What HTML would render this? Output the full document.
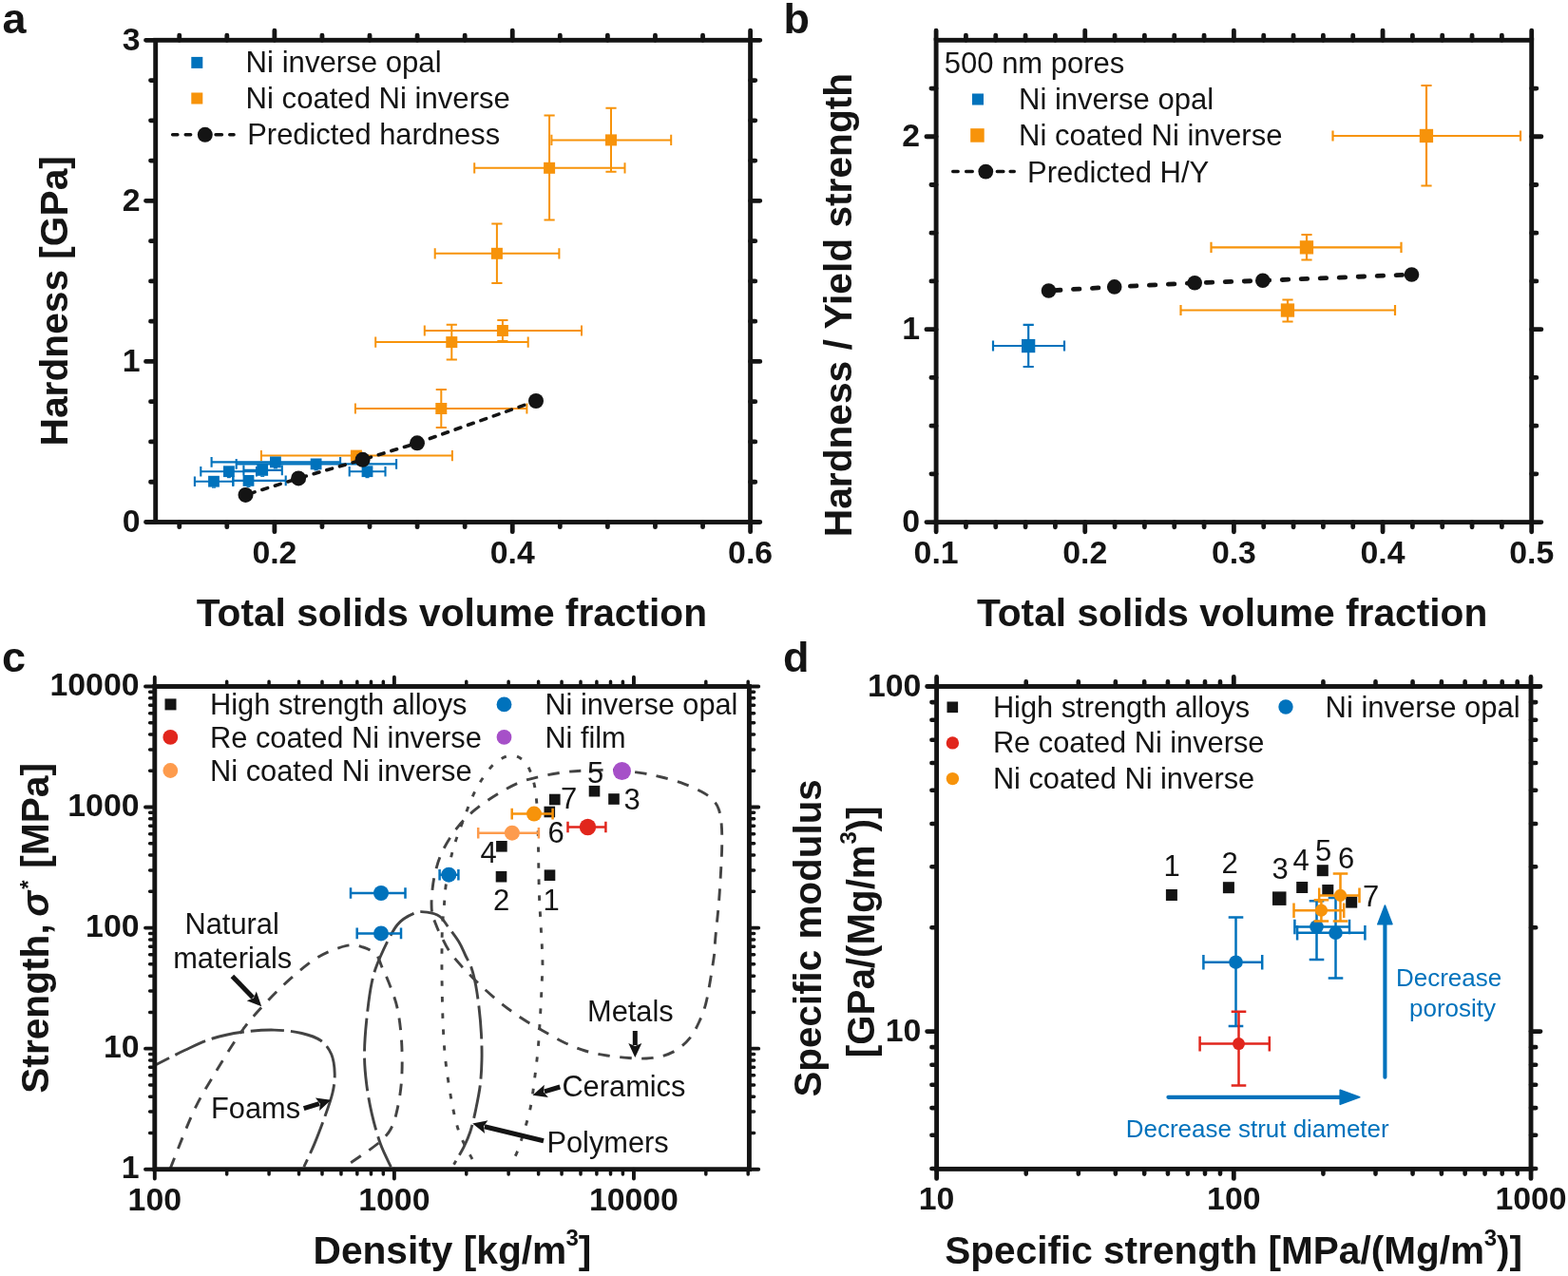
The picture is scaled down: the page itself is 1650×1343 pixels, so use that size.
<!DOCTYPE html>
<html lang="en">
<head>
<meta charset="utf-8">
<title>Figure: hardness and strength of Ni inverse opals</title>
<style>
html,body{margin:0;padding:0;background:#fff;}
body{width:1650px;height:1343px;overflow:hidden;}
svg{display:block;font-family:"Liberation Sans",sans-serif;fill:#141414;}
</style>
</head>
<body>
<svg width="1650" height="1343" viewBox="0 0 1650 1343">
<rect width="1650" height="1343" fill="#fff"/>
<g id="panel-a">
<text x="2.40" y="35.00" font-size="45" font-weight="bold">a</text>
<path d="M274.9 479.6H475.9M274.9 474.0v11.2M475.9 474.0v11.2M374.9 476.0V483.0M369.3 476.0h11.2M369.3 483.0h11.2" stroke="#f7930a" stroke-width="2.0" fill="none"/>
<rect x="368.9" y="473.6" width="12" height="12" fill="#f7930a"/>
<path d="M373.9 430.0H554.4M373.9 424.4v11.2M554.4 424.4v11.2M464.3 410.1V450.0M458.7 410.1h11.2M458.7 450.0h11.2" stroke="#f7930a" stroke-width="2.0" fill="none"/>
<rect x="458.3" y="424.0" width="12" height="12" fill="#f7930a"/>
<path d="M395.2 360.1H555.7M395.2 354.5v11.2M555.7 354.5v11.2M475.3 341.8V378.4M469.7 341.8h11.2M469.7 378.4h11.2" stroke="#f7930a" stroke-width="2.0" fill="none"/>
<rect x="469.3" y="354.1" width="12" height="12" fill="#f7930a"/>
<path d="M446.8 348.0H612.0M446.8 342.4v11.2M612.0 342.4v11.2M528.9 337.0V358.9M523.3 337.0h11.2M523.3 358.9h11.2" stroke="#f7930a" stroke-width="2.0" fill="none"/>
<rect x="522.9" y="342.0" width="12" height="12" fill="#f7930a"/>
<path d="M457.7 266.8H588.4M457.7 261.2v11.2M588.4 261.2v11.2M522.9 235.6V297.9M517.3 235.6h11.2M517.3 297.9h11.2" stroke="#f7930a" stroke-width="2.0" fill="none"/>
<rect x="516.9" y="260.8" width="12" height="12" fill="#f7930a"/>
<path d="M499.2 176.8H657.5M499.2 171.2v11.2M657.5 171.2v11.2M578.1 121.6V231.4M572.5 121.6h11.2M572.5 231.4h11.2" stroke="#f7930a" stroke-width="2.0" fill="none"/>
<rect x="572.1" y="170.8" width="12" height="12" fill="#f7930a"/>
<path d="M580.4 147.4H706.2M580.4 141.8v11.2M706.2 141.8v11.2M643.0 113.7V180.7M637.4 113.7h11.2M637.4 180.7h11.2" stroke="#f7930a" stroke-width="2.0" fill="none"/>
<rect x="637.0" y="141.4" width="12" height="12" fill="#f7930a"/>
<path d="M204.9 506.7H245.3M204.9 501.4v10.6M245.3 501.4v10.6" stroke="#0072bc" stroke-width="2.1" fill="none"/>
<rect x="219.1" y="500.8" width="11.8" height="11.8" fill="#0072bc"/>
<path d="M223.0 513.0h4" stroke="#0072bc" stroke-width="1.4"/>
<path d="M211.3 496.2H270.0M211.3 490.9v10.6M270.0 490.9v10.6" stroke="#0072bc" stroke-width="2.1" fill="none"/>
<rect x="235.0" y="490.3" width="11.8" height="11.8" fill="#0072bc"/>
<path d="M238.9 502.5h4" stroke="#0072bc" stroke-width="1.4"/>
<path d="M245.3 505.9H300.7M245.3 500.6v10.6M300.7 500.6v10.6" stroke="#0072bc" stroke-width="2.1" fill="none"/>
<rect x="255.6" y="500.0" width="11.8" height="11.8" fill="#0072bc"/>
<path d="M259.5 512.2h4" stroke="#0072bc" stroke-width="1.4"/>
<path d="M256.4 494.9H296.8M256.4 489.6v10.6M296.8 489.6v10.6" stroke="#0072bc" stroke-width="2.1" fill="none"/>
<rect x="270.3" y="489.0" width="11.8" height="11.8" fill="#0072bc"/>
<path d="M274.2 501.2h4" stroke="#0072bc" stroke-width="1.4"/>
<path d="M222.6 486.4H358.1M222.6 481.1v10.6M358.1 481.1v10.6" stroke="#0072bc" stroke-width="2.1" fill="none"/>
<rect x="284.0" y="480.5" width="11.8" height="11.8" fill="#0072bc"/>
<path d="M287.9 492.7h4" stroke="#0072bc" stroke-width="1.4"/>
<path d="M248.7 488.4H417.1M248.7 483.1v10.6M417.1 483.1v10.6" stroke="#0072bc" stroke-width="2.1" fill="none"/>
<rect x="326.7" y="482.5" width="11.8" height="11.8" fill="#0072bc"/>
<path d="M330.6 494.7h4" stroke="#0072bc" stroke-width="1.4"/>
<path d="M367.7 496.2H405.5M367.7 490.9v10.6M405.5 490.9v10.6" stroke="#0072bc" stroke-width="2.1" fill="none"/>
<rect x="380.6" y="490.3" width="11.8" height="11.8" fill="#0072bc"/>
<path d="M384.5 502.5h4" stroke="#0072bc" stroke-width="1.4"/>
<polyline points="258.5,520.9 314.1,503.4 381.6,483.8 439.0,466.3 564.0,422.0" stroke="#141414" stroke-width="3.6" stroke-dasharray="6 8.2" stroke-dashoffset="-4" stroke-linecap="round" fill="none"/>
<circle cx="258.5" cy="520.9" r="8" fill="#141414"/>
<circle cx="314.1" cy="503.4" r="8" fill="#141414"/>
<circle cx="381.6" cy="483.8" r="8" fill="#141414"/>
<circle cx="439.0" cy="466.3" r="8" fill="#141414"/>
<circle cx="564.0" cy="422.0" r="8" fill="#141414"/>
<path d="M288.88 549.50v10.2M288.88 42.30v-10.2M539.24 549.50v10.2M539.24 42.30v-10.2M789.60 549.50v10.2M789.60 42.30v-10.2M163.70 549.50h-10.2M789.60 549.50h10.2M163.70 380.43h-10.2M789.60 380.43h10.2M163.70 211.37h-10.2M789.60 211.37h10.2M163.70 42.30h-10.2M789.60 42.30h10.2" stroke="#141414" stroke-width="4.8" stroke-linecap="round" fill="none"/>
<path d="M188.74 549.50v5.2M188.74 42.30v-5.2M238.81 549.50v5.2M238.81 42.30v-5.2M338.95 549.50v5.2M338.95 42.30v-5.2M389.02 549.50v5.2M389.02 42.30v-5.2M439.10 549.50v5.2M439.10 42.30v-5.2M489.17 549.50v5.2M489.17 42.30v-5.2M589.31 549.50v5.2M589.31 42.30v-5.2M639.38 549.50v5.2M639.38 42.30v-5.2M689.46 549.50v5.2M689.46 42.30v-5.2M739.53 549.50v5.2M739.53 42.30v-5.2M163.70 507.23h-5.2M789.60 507.23h5.2M163.70 464.97h-5.2M789.60 464.97h5.2M163.70 422.70h-5.2M789.60 422.70h5.2M163.70 338.17h-5.2M789.60 338.17h5.2M163.70 295.90h-5.2M789.60 295.90h5.2M163.70 253.63h-5.2M789.60 253.63h5.2M163.70 169.10h-5.2M789.60 169.10h5.2M163.70 126.83h-5.2M789.60 126.83h5.2M163.70 84.57h-5.2M789.60 84.57h5.2" stroke="#141414" stroke-width="4.8" stroke-linecap="round" fill="none"/>
<rect x="163.70" y="42.30" width="625.90" height="507.20" stroke="#141414" stroke-width="4.9" fill="none"/>
<text x="147.50" y="560.20" font-size="33.8" font-weight="bold" text-anchor="end">0</text>
<text x="147.50" y="391.13" font-size="33.8" font-weight="bold" text-anchor="end">1</text>
<text x="147.50" y="222.07" font-size="33.8" font-weight="bold" text-anchor="end">2</text>
<text x="147.50" y="53.00" font-size="33.8" font-weight="bold" text-anchor="end">3</text>
<text x="288.88" y="592.60" font-size="33.8" font-weight="bold" text-anchor="middle">0.2</text>
<text x="539.24" y="592.60" font-size="33.8" font-weight="bold" text-anchor="middle">0.4</text>
<text x="789.60" y="592.60" font-size="33.8" font-weight="bold" text-anchor="middle">0.6</text>
<text x="475.40" y="658.70" font-size="40.7" font-weight="bold" text-anchor="middle">Total solids volume fraction</text>
<text x="71.00" y="316.80" font-size="40.7" font-weight="bold" text-anchor="middle" transform="rotate(-90 71.00 316.80)">Hardness [GPa]</text>
<rect x="201.3" y="59.9" width="12" height="12" fill="#0072bc"/>
<text x="258.60" y="76.40" font-size="31.15">Ni inverse opal</text>
<rect x="201.3" y="97.5" width="12" height="12" fill="#f7930a"/>
<text x="258.60" y="113.90" font-size="31.1">Ni coated Ni inverse</text>
<path d="M181.6 141.8H186.9M195.2 141.8H200.7M227 141.8H233.5M241.7 141.8H246.1" stroke="#141414" stroke-width="3.4" stroke-linecap="round" fill="none"/>
<circle cx="215.8" cy="141.8" r="8" fill="#141414"/>
<text x="260.30" y="152.00" font-size="30.85">Predicted hardness</text>
</g>
<g id="panel-b">
<text x="824.60" y="35.20" font-size="45" font-weight="bold">b</text>
<path d="M1402.5 143.0H1600.0M1402.5 137.4v11.2M1600.0 137.4v11.2M1501.0 90.0V195.5M1495.4 90.0h11.2M1495.4 195.5h11.2" stroke="#f7930a" stroke-width="2.2" fill="none"/>
<rect x="1493.8" y="135.8" width="14.3" height="14.3" fill="#f7930a"/>
<path d="M1274.5 260.4H1474.5M1274.5 254.8v11.2M1474.5 254.8v11.2M1375.0 247.0V273.5M1369.4 247.0h11.2M1369.4 273.5h11.2" stroke="#f7930a" stroke-width="2.2" fill="none"/>
<rect x="1367.8" y="253.2" width="14.3" height="14.3" fill="#f7930a"/>
<path d="M1242.5 326.5H1468.0M1242.5 320.9v11.2M1468.0 320.9v11.2M1355.0 315.5V338.5M1349.4 315.5h11.2M1349.4 338.5h11.2" stroke="#f7930a" stroke-width="2.2" fill="none"/>
<rect x="1347.8" y="319.4" width="14.3" height="14.3" fill="#f7930a"/>
<path d="M1045.0 364.0H1120.0M1045.0 358.4v11.2M1120.0 358.4v11.2M1082.2 341.8V386.0M1076.6 341.8h11.2M1076.6 386.0h11.2" stroke="#0072bc" stroke-width="2.2" fill="none"/>
<rect x="1075.0" y="356.9" width="14.3" height="14.3" fill="#0072bc"/>
<polyline points="1103.5,306 1172.7,301.9 1257.2,297.8 1328.8,295.3 1485.5,289" stroke="#141414" stroke-width="4.8" stroke-dasharray="6.5 13.5" stroke-dashoffset="-6" stroke-linecap="round" fill="none"/>
<circle cx="1103.5" cy="306.0" r="7.8" fill="#141414"/>
<circle cx="1172.7" cy="301.9" r="7.8" fill="#141414"/>
<circle cx="1257.2" cy="297.8" r="7.8" fill="#141414"/>
<circle cx="1328.8" cy="295.3" r="7.8" fill="#141414"/>
<circle cx="1485.5" cy="289.0" r="7.8" fill="#141414"/>
<path d="M985.10 549.60v10.2M985.10 42.30v-10.2M1141.75 549.60v10.2M1141.75 42.30v-10.2M1298.40 549.60v10.2M1298.40 42.30v-10.2M1455.05 549.60v10.2M1455.05 42.30v-10.2M1611.70 549.60v10.2M1611.70 42.30v-10.2M985.10 549.60h-10.2M1611.70 549.60h10.2M985.10 346.68h-10.2M1611.70 346.68h10.2M985.10 143.76h-10.2M1611.70 143.76h10.2" stroke="#141414" stroke-width="4.8" stroke-linecap="round" fill="none"/>
<path d="M1016.43 549.60v5.2M1016.43 42.30v-5.2M1047.76 549.60v5.2M1047.76 42.30v-5.2M1079.09 549.60v5.2M1079.09 42.30v-5.2M1110.42 549.60v5.2M1110.42 42.30v-5.2M1173.08 549.60v5.2M1173.08 42.30v-5.2M1204.41 549.60v5.2M1204.41 42.30v-5.2M1235.74 549.60v5.2M1235.74 42.30v-5.2M1267.07 549.60v5.2M1267.07 42.30v-5.2M1329.73 549.60v5.2M1329.73 42.30v-5.2M1361.06 549.60v5.2M1361.06 42.30v-5.2M1392.39 549.60v5.2M1392.39 42.30v-5.2M1423.72 549.60v5.2M1423.72 42.30v-5.2M1486.38 549.60v5.2M1486.38 42.30v-5.2M1517.71 549.60v5.2M1517.71 42.30v-5.2M1549.04 549.60v5.2M1549.04 42.30v-5.2M1580.37 549.60v5.2M1580.37 42.30v-5.2M985.10 498.87h-5.2M1611.70 498.87h5.2M985.10 448.14h-5.2M1611.70 448.14h5.2M985.10 397.41h-5.2M1611.70 397.41h5.2M985.10 295.95h-5.2M1611.70 295.95h5.2M985.10 245.22h-5.2M1611.70 245.22h5.2M985.10 194.49h-5.2M1611.70 194.49h5.2M985.10 93.03h-5.2M1611.70 93.03h5.2" stroke="#141414" stroke-width="4.8" stroke-linecap="round" fill="none"/>
<rect x="985.10" y="42.30" width="626.60" height="507.30" stroke="#141414" stroke-width="4.9" fill="none"/>
<text x="968.00" y="560.30" font-size="33.8" font-weight="bold" text-anchor="end">0</text>
<text x="968.00" y="357.38" font-size="33.8" font-weight="bold" text-anchor="end">1</text>
<text x="968.00" y="154.46" font-size="33.8" font-weight="bold" text-anchor="end">2</text>
<text x="985.10" y="592.60" font-size="33.8" font-weight="bold" text-anchor="middle">0.1</text>
<text x="1141.75" y="592.60" font-size="33.8" font-weight="bold" text-anchor="middle">0.2</text>
<text x="1298.40" y="592.60" font-size="33.8" font-weight="bold" text-anchor="middle">0.3</text>
<text x="1455.05" y="592.60" font-size="33.8" font-weight="bold" text-anchor="middle">0.4</text>
<text x="1611.70" y="592.60" font-size="33.8" font-weight="bold" text-anchor="middle">0.5</text>
<text x="1296.60" y="658.90" font-size="40.7" font-weight="bold" text-anchor="middle">Total solids volume fraction</text>
<text x="895.60" y="321.00" font-size="40.7" font-weight="bold" text-anchor="middle" transform="rotate(-90 895.60 321.00)">Hardness / Yield strength</text>
<text x="993.80" y="76.50" font-size="31">500 nm pores</text>
<rect x="1023.0" y="98.5" width="12" height="12" fill="#0072bc"/>
<text x="1072.00" y="115.00" font-size="31">Ni inverse opal</text>
<rect x="1021.2" y="135.2" width="14.5" height="14.5" fill="#f7930a"/>
<text x="1072.00" y="152.50" font-size="31">Ni coated Ni inverse</text>
<path d="M1002.7 180.5H1008.2M1016.6 180.5H1023.3M1049.3 180.5H1055.9M1063.1 180.5H1067.3" stroke="#141414" stroke-width="3.4" stroke-linecap="round" fill="none"/>
<circle cx="1037.3" cy="180.6" r="7.9" fill="#141414"/>
<text x="1081.00" y="191.50" font-size="31">Predicted H/Y</text>
</g>
<g id="panel-c">
<text x="1.90" y="706.70" font-size="45" font-weight="bold">c</text>
<path d="M497.0 1220.0C495.7 1217.5 491.5 1210.2 489.0 1205.0C486.5 1199.8 484.4 1196.1 482.2 1188.9C480.0 1181.7 477.9 1173.2 475.8 1162.0C473.7 1150.8 471.1 1134.8 469.5 1122.0C467.9 1109.2 467.2 1098.7 466.5 1085.0C465.8 1071.3 465.4 1054.2 465.2 1040.0C464.9 1025.8 464.9 1010.8 465.0 1000.0C465.1 989.2 465.1 982.5 465.5 975.0C465.9 967.5 466.5 962.5 467.2 955.0C467.9 947.5 468.0 939.7 469.5 929.7C471.0 919.7 473.5 906.0 476.4 895.2C479.3 884.5 482.9 875.6 486.8 865.2C490.7 854.8 495.2 842.2 499.8 833.0C504.4 823.8 510.0 815.7 514.5 810.0C519.0 804.3 522.7 801.2 527.0 798.8C531.3 796.3 536.3 794.8 540.5 795.3C544.7 795.8 549.0 798.7 552.0 801.5C555.0 804.3 556.4 807.7 558.2 812.2C560.0 816.7 561.6 822.2 562.8 828.4C563.9 834.5 564.5 841.0 565.1 849.1C565.7 857.2 565.9 867.1 566.2 876.7C566.5 886.3 566.5 896.0 566.7 906.7C566.9 917.5 567.0 929.7 567.4 941.2C567.8 952.7 568.6 964.3 569.2 975.8C569.8 987.3 570.7 1000.2 570.9 1010.0C571.1 1019.8 570.6 1024.7 570.2 1034.5C569.8 1044.3 569.2 1057.6 568.5 1069.1C567.8 1080.6 567.2 1092.8 566.2 1103.6C565.2 1114.3 564.1 1123.2 562.8 1133.6C561.5 1144.0 560.1 1156.2 558.2 1165.8C556.3 1175.4 553.6 1183.5 551.3 1191.2C549.0 1198.9 546.3 1206.9 544.4 1211.9C542.5 1216.9 540.6 1219.5 539.8 1221.0" stroke="#434343" stroke-width="2.9" stroke-dasharray="5.5 11.5" stroke-dashoffset="0" fill="none"/>
<path d="M454.5 959.6C453.9 954.5 453.9 948.1 454.5 941.2C455.1 934.3 456.1 925.9 458.0 918.2C459.9 910.5 462.0 903.3 466.0 895.2C470.0 887.1 476.4 877.0 482.2 869.8C488.0 862.5 493.7 857.4 500.6 851.7C507.5 846.0 515.9 840.5 523.6 835.8C531.3 831.1 539.0 826.6 546.7 823.5C554.4 820.4 562.0 818.8 569.7 817.0C577.4 815.2 585.0 813.9 592.7 812.9C600.4 811.9 607.1 811.5 615.8 811.1C624.5 810.7 635.4 810.1 645.0 810.5C654.6 810.9 664.7 812.1 673.3 813.4C681.9 814.6 688.7 816.1 696.4 818.0C704.1 819.9 712.5 822.4 719.4 824.9C726.3 827.4 732.8 830.3 737.8 833.0C742.8 835.7 746.2 837.9 749.3 841.0C752.4 844.1 754.6 847.0 756.2 851.4C757.9 855.8 758.6 861.0 759.2 867.5C759.8 874.0 759.8 882.0 759.7 890.5C759.6 899.0 759.1 907.8 758.5 918.2C757.9 928.6 757.2 941.2 756.2 952.7C755.2 964.2 753.6 978.6 752.8 987.3C752.0 995.9 752.6 996.7 751.6 1004.6C750.6 1012.5 748.5 1025.7 747.0 1034.5C745.5 1043.3 744.3 1050.7 742.4 1057.6C740.5 1064.5 738.2 1070.2 735.5 1076.0C732.8 1081.8 730.1 1087.3 726.3 1092.1C722.5 1096.9 717.5 1101.5 712.5 1104.8C707.5 1108.1 701.8 1110.2 696.4 1111.7C691.0 1113.2 686.1 1113.7 680.3 1114.0C674.5 1114.3 668.7 1114.0 661.8 1113.5C654.9 1113.0 646.5 1112.2 638.8 1111.0C631.1 1109.8 623.5 1108.4 615.8 1106.0C608.1 1103.6 600.4 1100.4 592.7 1096.7C585.0 1093.0 577.4 1088.4 569.7 1084.0C562.0 1079.6 554.4 1075.4 546.7 1070.2C539.0 1065.0 531.7 1059.7 523.6 1053.0C515.5 1046.3 506.4 1038.1 498.3 1030.0C490.2 1021.9 481.0 1012.1 475.3 1004.6C469.6 997.1 466.8 990.1 464.0 984.7C461.2 979.3 459.9 976.2 458.3 972.0C456.7 967.8 455.1 964.7 454.5 959.6Z" stroke="#434343" stroke-width="2.9" stroke-dasharray="12.5 10.5" stroke-dashoffset="0" fill="none"/>
<path d="M411.4 1228.2C409.5 1224.1 403.5 1212.9 400.2 1203.6C396.9 1194.3 393.7 1182.7 391.3 1172.3C388.9 1161.9 387.0 1151.4 385.7 1141.0C384.4 1130.6 383.5 1121.0 383.5 1109.8C383.5 1098.6 384.4 1086.7 385.7 1074.0C387.0 1061.3 388.9 1045.0 391.3 1033.8C393.7 1022.6 395.8 1017.0 400.2 1007.0C404.6 997.0 412.0 981.1 418.0 973.5C424.0 965.9 430.8 963.4 436.0 961.2C441.2 959.0 444.9 959.5 449.4 960.1C453.9 960.7 459.1 962.0 462.8 964.6C466.5 967.2 468.3 971.2 471.7 975.7C475.1 980.2 479.9 986.4 483.0 991.4C486.1 996.4 487.8 1001.5 490.0 1006.0C492.2 1010.5 494.2 1013.3 496.0 1018.4C497.8 1023.5 499.3 1029.9 500.6 1036.8C501.9 1043.7 503.0 1051.5 504.0 1059.9C505.0 1068.4 505.9 1078.3 506.4 1087.5C506.9 1096.7 507.2 1106.0 507.0 1115.2C506.8 1124.4 506.3 1134.0 505.2 1142.8C504.1 1151.6 502.3 1160.0 500.6 1168.1C498.9 1176.2 496.9 1184.7 494.8 1191.2C492.7 1197.7 490.9 1201.5 488.0 1207.3C485.1 1213.0 479.3 1222.6 477.6 1225.7" stroke="#434343" stroke-width="2.9" stroke-dasharray="35 7" stroke-dashoffset="0" fill="none"/>
<path d="M163.4 1121.0C168.6 1118.4 184.6 1110.0 194.7 1105.3C204.8 1100.6 213.6 1096.2 223.7 1093.0C233.8 1089.8 244.2 1087.8 255.0 1086.3C265.8 1084.8 278.1 1083.9 288.5 1084.1C298.9 1084.3 309.4 1085.6 317.6 1087.5C325.8 1089.4 332.5 1091.6 337.7 1095.3C342.9 1099.0 346.4 1104.0 348.8 1109.8C351.2 1115.6 352.0 1123.2 352.2 1129.9C352.4 1136.6 351.7 1142.5 350.0 1150.0C348.3 1157.5 345.3 1165.7 342.1 1174.6C338.9 1183.5 334.7 1194.7 331.0 1203.6C327.3 1212.5 321.7 1224.1 319.8 1228.2" stroke="#434343" stroke-width="2.9" stroke-dasharray="35 7" stroke-dashoffset="18.5" fill="none"/>
<path d="M179.0 1230.4C183.1 1220.3 195.8 1186.7 203.6 1170.0C211.4 1153.3 217.8 1143.8 226.0 1130.0C234.2 1116.2 244.6 1099.1 252.8 1087.5C261.0 1075.9 266.1 1070.3 275.0 1060.6C283.9 1050.9 296.3 1038.3 306.4 1029.4C316.5 1020.5 325.7 1012.7 335.4 1007.0C345.1 1001.3 356.7 997.1 364.5 995.4C372.3 993.7 377.1 995.4 382.3 997.0C387.5 998.6 392.5 1001.3 395.8 1004.8C399.1 1008.3 399.8 1013.2 402.0 1018.0C404.2 1022.8 406.3 1026.7 409.0 1033.8C411.7 1040.9 415.7 1050.2 418.0 1060.6C420.3 1071.0 421.8 1083.7 422.6 1096.4C423.4 1109.1 423.4 1124.7 422.6 1136.6C421.8 1148.5 419.9 1159.3 418.0 1167.9C416.1 1176.5 414.4 1182.4 411.4 1188.0C408.4 1193.6 405.0 1196.9 400.2 1201.4C395.4 1205.9 388.6 1210.3 382.3 1214.8C376.0 1219.3 365.6 1226.0 362.2 1228.2" stroke="#434343" stroke-width="2.9" stroke-dasharray="12.5 10.5" stroke-dashoffset="0" fill="none"/>
<path d="M668.3 1085.0L668.3 1100.0" stroke="#141414" stroke-width="5.0" fill="none"/>
<path d="M668.3 1113.0L661.3 1098.0L668.3 1101.0L675.3 1098.0Z" fill="#141414"/>
<path d="M589.3 1144.0L572.9 1148.9" stroke="#141414" stroke-width="5.0" fill="none"/>
<path d="M560.5 1152.7L572.8 1141.7L572.0 1149.2L576.9 1155.1Z" fill="#141414"/>
<path d="M572.0 1200.8L509.8 1185.7" stroke="#141414" stroke-width="5.0" fill="none"/>
<path d="M497.2 1182.6L513.4 1179.3L508.9 1185.4L510.1 1192.9Z" fill="#141414"/>
<path d="M244.4 1027.4L266.2 1049.9" stroke="#141414" stroke-width="5.0" fill="none"/>
<path d="M275.2 1059.2L259.7 1053.3L266.9 1050.6L269.8 1043.6Z" fill="#141414"/>
<path d="M319.7 1166.7L335.9 1161.7" stroke="#141414" stroke-width="5.0" fill="none"/>
<path d="M348.3 1157.8L336.1 1168.9L336.8 1161.4L331.9 1155.6Z" fill="#141414"/>
<rect x="619.7" y="826.9" width="11.6" height="11.6" fill="#141414"/>
<rect x="640.2" y="835.2" width="11.6" height="11.6" fill="#141414"/>
<rect x="578.0" y="835.7" width="11.6" height="11.6" fill="#141414"/>
<rect x="572.5" y="848.7" width="11.6" height="11.6" fill="#141414"/>
<rect x="522.1" y="885.0" width="11.6" height="11.6" fill="#141414"/>
<rect x="521.7" y="916.9" width="11.6" height="11.6" fill="#141414"/>
<rect x="572.7" y="915.4" width="11.6" height="11.6" fill="#141414"/>
<path d="M538.7 856.6H581.6M538.7 850.8v11.6M581.6 850.8v11.6" stroke="#f7930a" stroke-width="2.5" fill="none"/>
<circle cx="562.0" cy="856.6" r="8.0" fill="#f7930a"/>
<path d="M503.2 876.7H566.9M503.2 870.9v11.6M566.9 870.9v11.6" stroke="#fd9b4d" stroke-width="2.5" fill="none"/>
<circle cx="538.9" cy="876.7" r="8.0" fill="#fd9b4d"/>
<path d="M597.5 870.5H637.4M597.5 864.7v11.6M637.4 864.7v11.6" stroke="#e1261c" stroke-width="2.5" fill="none"/>
<circle cx="618.5" cy="870.5" r="8.7" fill="#e1261c"/>
<path d="M462.6 920.7H482.4M462.6 914.9v11.6M482.4 914.9v11.6" stroke="#0072bc" stroke-width="2.5" fill="none"/>
<circle cx="472.3" cy="920.7" r="8.0" fill="#0072bc"/>
<path d="M369.0 940.0H426.5M369.0 934.2v11.6M426.5 934.2v11.6" stroke="#0072bc" stroke-width="2.5" fill="none"/>
<circle cx="401.0" cy="940.0" r="8.0" fill="#0072bc"/>
<path d="M375.7 982.4H422.0M375.7 976.6v11.6M422.0 976.6v11.6" stroke="#0072bc" stroke-width="2.5" fill="none"/>
<circle cx="401.0" cy="982.4" r="8.0" fill="#0072bc"/>
<circle cx="654.5" cy="811.5" r="9.5" fill="#a650c8"/>
<text x="626.50" y="823.50" font-size="31" text-anchor="middle">5</text>
<text x="598.50" y="851.00" font-size="31" text-anchor="middle">7</text>
<text x="665.00" y="852.30" font-size="31" text-anchor="middle">3</text>
<text x="585.00" y="887.00" font-size="31" text-anchor="middle">6</text>
<text x="514.00" y="908.00" font-size="31" text-anchor="middle">4</text>
<text x="527.50" y="958.00" font-size="31" text-anchor="middle">2</text>
<text x="580.00" y="958.00" font-size="31" text-anchor="middle">1</text>
<path d="M162.80 1230.70v9.8M162.80 722.50v-9.8M414.87 1230.70v9.8M414.87 722.50v-9.8M666.94 1230.70v9.8M666.94 722.50v-9.8M162.80 1230.70h-9.8M788.40 1230.70h9.8M162.80 1103.65h-9.8M788.40 1103.65h9.8M162.80 976.60h-9.8M788.40 976.60h9.8M162.80 849.55h-9.8M788.40 849.55h9.8M162.80 722.50h-9.8M788.40 722.50h9.8" stroke="#141414" stroke-width="3.9" stroke-linecap="round" fill="none"/>
<path d="M238.68 1230.70v5.2M238.68 722.50v-5.2M283.07 1230.70v5.2M283.07 722.50v-5.2M314.56 1230.70v5.2M314.56 722.50v-5.2M338.99 1230.70v5.2M338.99 722.50v-5.2M358.95 1230.70v5.2M358.95 722.50v-5.2M375.82 1230.70v5.2M375.82 722.50v-5.2M390.44 1230.70v5.2M390.44 722.50v-5.2M403.33 1230.70v5.2M403.33 722.50v-5.2M490.75 1230.70v5.2M490.75 722.50v-5.2M535.13 1230.70v5.2M535.13 722.50v-5.2M566.63 1230.70v5.2M566.63 722.50v-5.2M591.06 1230.70v5.2M591.06 722.50v-5.2M611.01 1230.70v5.2M611.01 722.50v-5.2M627.89 1230.70v5.2M627.89 722.50v-5.2M642.51 1230.70v5.2M642.51 722.50v-5.2M655.40 1230.70v5.2M655.40 722.50v-5.2M742.82 1230.70v5.2M742.82 722.50v-5.2M787.20 1230.70v5.2M787.20 722.50v-5.2M162.80 1192.45h-5.2M788.40 1192.45h5.2M162.80 1170.08h-5.2M788.40 1170.08h5.2M162.80 1154.21h-5.2M788.40 1154.21h5.2M162.80 1141.90h-5.2M788.40 1141.90h5.2M162.80 1131.84h-5.2M788.40 1131.84h5.2M162.80 1123.33h-5.2M788.40 1123.33h5.2M162.80 1115.96h-5.2M788.40 1115.96h5.2M162.80 1109.46h-5.2M788.40 1109.46h5.2M162.80 1065.40h-5.2M788.40 1065.40h5.2M162.80 1043.03h-5.2M788.40 1043.03h5.2M162.80 1027.16h-5.2M788.40 1027.16h5.2M162.80 1014.85h-5.2M788.40 1014.85h5.2M162.80 1004.79h-5.2M788.40 1004.79h5.2M162.80 996.28h-5.2M788.40 996.28h5.2M162.80 988.91h-5.2M788.40 988.91h5.2M162.80 982.41h-5.2M788.40 982.41h5.2M162.80 938.35h-5.2M788.40 938.35h5.2M162.80 915.98h-5.2M788.40 915.98h5.2M162.80 900.11h-5.2M788.40 900.11h5.2M162.80 887.80h-5.2M788.40 887.80h5.2M162.80 877.74h-5.2M788.40 877.74h5.2M162.80 869.23h-5.2M788.40 869.23h5.2M162.80 861.86h-5.2M788.40 861.86h5.2M162.80 855.36h-5.2M788.40 855.36h5.2M162.80 811.30h-5.2M788.40 811.30h5.2M162.80 788.93h-5.2M788.40 788.93h5.2M162.80 773.06h-5.2M788.40 773.06h5.2M162.80 760.75h-5.2M788.40 760.75h5.2M162.80 750.69h-5.2M788.40 750.69h5.2M162.80 742.18h-5.2M788.40 742.18h5.2M162.80 734.81h-5.2M788.40 734.81h5.2M162.80 728.31h-5.2M788.40 728.31h5.2" stroke="#141414" stroke-width="3.5" stroke-linecap="round" fill="none"/>
<rect x="162.80" y="722.50" width="625.60" height="508.20" stroke="#141414" stroke-width="4.9" fill="none"/>
<text x="146.50" y="1240.40" font-size="33.8" font-weight="bold" text-anchor="end">1</text>
<text x="146.50" y="1113.35" font-size="33.8" font-weight="bold" text-anchor="end">10</text>
<text x="146.50" y="986.30" font-size="33.8" font-weight="bold" text-anchor="end">100</text>
<text x="146.50" y="859.25" font-size="33.8" font-weight="bold" text-anchor="end">1000</text>
<text x="146.50" y="732.20" font-size="33.8" font-weight="bold" text-anchor="end">10000</text>
<text x="162.80" y="1273.80" font-size="33.8" font-weight="bold" text-anchor="middle">100</text>
<text x="414.87" y="1273.80" font-size="33.8" font-weight="bold" text-anchor="middle">1000</text>
<text x="666.94" y="1273.80" font-size="33.8" font-weight="bold" text-anchor="middle">10000</text>
<text font-size="40.7" font-weight="bold" transform="translate(329.50 1330.20)"><tspan x="0.00" y="0.00">Density [kg/m</tspan><tspan x="266.00" y="-19.30" font-size="24">3</tspan><tspan x="279.30" y="0.00">]</tspan></text>
<text font-size="40.7" font-weight="bold" transform="translate(50.50 1150.80) rotate(-90)"><tspan x="0.00" y="0.00">Strength,</tspan><tspan x="186.00" y="0.00" font-style="italic">σ</tspan><tspan x="215.00" y="-13.00" font-size="24">*</tspan><tspan x="237.10" y="0.00">[MPa]</tspan></text>
<rect x="173.5" y="735.4" width="12" height="12" fill="#141414"/>
<text x="221.00" y="752.00" font-size="30.8">High strength alloys</text>
<circle cx="179.3" cy="775.9" r="7.9" fill="#e1261c"/>
<text x="221.00" y="787.00" font-size="30.8">Re coated Ni inverse</text>
<circle cx="179.3" cy="811.0" r="7.9" fill="#fd9b4d"/>
<text x="221.00" y="822.00" font-size="30.8">Ni coated Ni inverse</text>
<circle cx="530.5" cy="741.4" r="7.9" fill="#0072bc"/>
<text x="573.40" y="752.00" font-size="30.7">Ni inverse opal</text>
<circle cx="530.5" cy="775.9" r="7.9" fill="#a650c8"/>
<text x="573.40" y="787.00" font-size="30.7">Ni film</text>
<text x="244.10" y="982.90" font-size="30.8" text-anchor="middle">Natural</text>
<text x="244.70" y="1018.90" font-size="30.8" text-anchor="middle">materials</text>
<text x="663.40" y="1075.30" font-size="30.8" text-anchor="middle">Metals</text>
<text x="656.40" y="1153.80" font-size="30.8" text-anchor="middle">Ceramics</text>
<text x="269.10" y="1176.90" font-size="30.8" text-anchor="middle">Foams</text>
<text x="639.60" y="1213.00" font-size="30.8" text-anchor="middle">Polymers</text>
</g>
<g id="panel-d">
<text x="823.90" y="706.60" font-size="45" font-weight="bold">d</text>
<path d="M1229.4 1154.85H1412M1457.4 1133.8V972" stroke="#0072bc" stroke-width="4.1" stroke-linecap="round" fill="none"/>
<path d="M1430.7 1154.85L1410.2 1147.35V1162.35ZM1457.4 953L1449.85 972.8H1464.95Z" fill="#0072bc" stroke="#0072bc" stroke-width="1.6" stroke-linejoin="round"/>
<text x="1323.20" y="1196.80" font-size="25.95" text-anchor="middle" fill="#0072bc">Decrease strut diameter</text>
<text x="1524.60" y="1038.30" font-size="26" text-anchor="middle" fill="#0072bc">Decrease</text>
<text x="1528.50" y="1070.40" font-size="26" text-anchor="middle" fill="#0072bc">porosity</text>
<rect x="1226.9" y="936.0" width="12" height="12" fill="#141414"/>
<rect x="1286.9" y="928.2" width="12" height="12" fill="#141414"/>
<rect x="1339.0" y="938.4" width="14.5" height="14.5" fill="#141414"/>
<rect x="1364.2" y="928.0" width="12" height="12" fill="#141414"/>
<rect x="1385.8" y="910.2" width="12" height="12" fill="#141414"/>
<rect x="1391.3" y="931.0" width="12" height="12" fill="#141414"/>
<rect x="1416.2" y="943.6" width="12" height="12" fill="#141414"/>
<path d="M1266.4 1012.7H1328.2M1266.4 1004.9v15.6M1328.2 1004.9v15.6M1300.5 965.5V1080.0M1292.7 965.5h15.6M1292.7 1080.0h15.6" stroke="#0072bc" stroke-width="2.5" fill="none"/>
<circle cx="1300.5" cy="1012.7" r="7.3" fill="#0072bc"/>
<path d="M1362.4 975.5H1420.0M1362.4 967.7v15.6M1420.0 967.7v15.6M1385.5 948.2V1010.0M1377.7 948.2h15.6M1377.7 1010.0h15.6" stroke="#0072bc" stroke-width="2.5" fill="none"/>
<circle cx="1385.5" cy="975.5" r="7.3" fill="#0072bc"/>
<path d="M1365.1 981.8H1436.4M1365.1 974.0v15.6M1436.4 974.0v15.6M1405.5 944.9V1029.6M1397.7 944.9h15.6M1397.7 1029.6h15.6" stroke="#0072bc" stroke-width="2.5" fill="none"/>
<circle cx="1405.5" cy="981.8" r="7.3" fill="#0072bc"/>
<path d="M1262.6 1098.6H1335.8M1262.6 1090.8v15.6M1335.8 1090.8v15.6M1303.5 1064.8V1142.5M1295.7 1064.8h15.6M1295.7 1142.5h15.6" stroke="#e1261c" stroke-width="2.5" fill="none"/>
<circle cx="1303.5" cy="1098.6" r="6.5" fill="#e1261c"/>
<path d="M1361.5 958.2H1414.2M1361.5 950.4v15.6M1414.2 950.4v15.6M1390.4 947.3V969.6M1382.6 947.3h15.6M1382.6 969.6h15.6" stroke="#f7930a" stroke-width="2.5" fill="none"/>
<circle cx="1390.4" cy="958.2" r="6.6" fill="#f7930a"/>
<path d="M1388.2 942.4H1430.5M1388.2 934.6v15.6M1430.5 934.6v15.6M1410.5 919.5V969.6M1402.7 919.5h15.6M1402.7 969.6h15.6" stroke="#f7930a" stroke-width="2.5" fill="none"/>
<circle cx="1410.5" cy="942.4" r="6.6" fill="#f7930a"/>
<text x="1233.00" y="922.40" font-size="31" text-anchor="middle">1</text>
<text x="1294.20" y="919.30" font-size="31" text-anchor="middle">2</text>
<text x="1347.00" y="924.50" font-size="31" text-anchor="middle">3</text>
<text x="1369.00" y="916.40" font-size="31" text-anchor="middle">4</text>
<text x="1392.50" y="905.50" font-size="31" text-anchor="middle">5</text>
<text x="1416.50" y="914.20" font-size="31" text-anchor="middle">6</text>
<text x="1442.50" y="954.00" font-size="31" text-anchor="middle">7</text>
<path d="M985.60 1230.40v10.0M985.60 722.50v-10.0M1298.30 1230.40v10.0M1298.30 722.50v-10.0M1611.00 1230.40v10.0M1611.00 722.50v-10.0M985.60 1085.54h-10.0M1611.00 1085.54h10.0M985.60 722.50h-10.0M1611.00 722.50h10.0" stroke="#141414" stroke-width="4.8" stroke-linecap="round" fill="none"/>
<path d="M1079.73 1230.40v5.2M1079.73 722.50v-5.2M1134.80 1230.40v5.2M1134.80 722.50v-5.2M1173.86 1230.40v5.2M1173.86 722.50v-5.2M1204.17 1230.40v5.2M1204.17 722.50v-5.2M1228.93 1230.40v5.2M1228.93 722.50v-5.2M1249.86 1230.40v5.2M1249.86 722.50v-5.2M1268.00 1230.40v5.2M1268.00 722.50v-5.2M1283.99 1230.40v5.2M1283.99 722.50v-5.2M1392.43 1230.40v5.2M1392.43 722.50v-5.2M1447.50 1230.40v5.2M1447.50 722.50v-5.2M1486.56 1230.40v5.2M1486.56 722.50v-5.2M1516.87 1230.40v5.2M1516.87 722.50v-5.2M1541.63 1230.40v5.2M1541.63 722.50v-5.2M1562.56 1230.40v5.2M1562.56 722.50v-5.2M1580.70 1230.40v5.2M1580.70 722.50v-5.2M1596.69 1230.40v5.2M1596.69 722.50v-5.2M985.60 1230.01h-5.2M1611.00 1230.01h5.2M985.60 1194.82h-5.2M1611.00 1194.82h5.2M985.60 1166.08h-5.2M1611.00 1166.08h5.2M985.60 1141.77h-5.2M1611.00 1141.77h5.2M985.60 1120.72h-5.2M1611.00 1120.72h5.2M985.60 1102.15h-5.2M1611.00 1102.15h5.2M985.60 976.25h-5.2M1611.00 976.25h5.2M985.60 912.32h-5.2M1611.00 912.32h5.2M985.60 866.97h-5.2M1611.00 866.97h5.2M985.60 831.79h-5.2M1611.00 831.79h5.2M985.60 803.04h-5.2M1611.00 803.04h5.2M985.60 778.74h-5.2M1611.00 778.74h5.2M985.60 757.68h-5.2M1611.00 757.68h5.2M985.60 739.11h-5.2M1611.00 739.11h5.2" stroke="#141414" stroke-width="4.6" stroke-linecap="round" fill="none"/>
<rect x="985.60" y="722.50" width="625.40" height="507.90" stroke="#141414" stroke-width="4.9" fill="none"/>
<text x="969.40" y="1095.54" font-size="33.8" font-weight="bold" text-anchor="end">10</text>
<text x="969.40" y="732.50" font-size="33.8" font-weight="bold" text-anchor="end">100</text>
<text x="985.60" y="1272.80" font-size="33.8" font-weight="bold" text-anchor="middle">10</text>
<text x="1298.30" y="1272.80" font-size="33.8" font-weight="bold" text-anchor="middle">100</text>
<text x="1611.00" y="1272.80" font-size="33.8" font-weight="bold" text-anchor="middle">1000</text>
<text font-size="40.55" font-weight="bold" transform="translate(994.30 1330.30)"><tspan x="0.00" y="0.00">Specific strength [MPa/(Mg/m</tspan><tspan x="567.40" y="-19.30" font-size="24">3</tspan><tspan x="580.60" y="0.00">)]</tspan></text>
<text font-size="40.4" font-weight="bold" transform="translate(863.70 1154.60) rotate(-90)"><tspan x="0.00" y="0.00">Specific modulus</tspan></text>
<text font-size="40.3" font-weight="bold" transform="translate(920.40 1113.20) rotate(-90)"><tspan x="0.00" y="0.00">[GPa/(Mg/m</tspan><tspan x="224.60" y="-19.30" font-size="24">3</tspan><tspan x="237.80" y="0.00">)]</tspan></text>
<rect x="996.5" y="738.5" width="11.6" height="11.6" fill="#141414"/>
<text x="1044.90" y="754.80" font-size="30.78">High strength alloys</text>
<circle cx="1002.4" cy="781.9" r="6.7" fill="#e1261c"/>
<text x="1044.90" y="792.30" font-size="30.78">Re coated Ni inverse</text>
<circle cx="1002.4" cy="819.6" r="6.7" fill="#f7930a"/>
<text x="1044.90" y="830.20" font-size="30.78">Ni coated Ni inverse</text>
<circle cx="1353.0" cy="744.0" r="7.7" fill="#0072bc"/>
<text x="1394.60" y="754.60" font-size="31.0">Ni inverse opal</text>
</g>
</svg>
</body>
</html>
